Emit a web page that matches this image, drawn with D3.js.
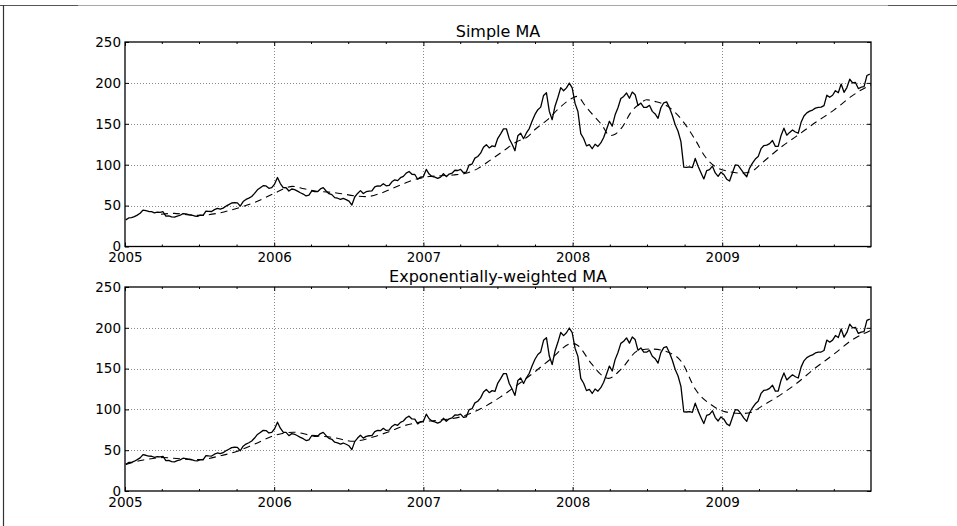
<!DOCTYPE html>
<html>
<head>
<meta charset="utf-8">
<script src="https://cdn.jsdelivr.net/npm/d3@7"></script>
<style>
  body { margin: 0; background: #fff; }
  svg { display: block; }
  text { font-family: "DejaVu Sans", sans-serif; fill: #000; }
</style>
</head>
<body>
<svg id="chart" width="957" height="526"></svg>
<script>
// ---- tick labels and titles ----
const yTicks = [0, 50, 100, 150, 200, 250];
const yearTicks = ["2005", "2006", "2007", "2008", "2009"];
const titles = ["Simple MA", "Exponentially-weighted MA"];

// ---- weekly closing price (one value per week, weeks starting Monday) ----
const close2005 = [32.6, 34.9, 35.2, 36.5, 38.4,
  40.6, 44.5, 43.8, 42.8,
  42.6, 41.2, 42.1, 41.7,
  42.5, 37.2, 37.4, 36.1,
  35.8, 37.1, 38.2, 40.2, 39.8,
  38.9, 38.3, 37.3, 36.8,
  38.4, 38.1, 43.3, 43.0,
  42.8, 45.1, 46.6, 45.7, 46.9,
  49.3, 51.2, 53.2, 53.6,
  53.4, 49.3, 54.9, 57.5, 59.1,
  61.2, 64.9, 69.3, 71.8,
  74.3, 74.0, 71.1, 71.9];
const close2006 = [76.3, 84.3, 77.0, 72.0, 71.8,
  67.8, 70.3, 69.5, 67.7,
  65.7, 64.1, 61.8, 62.7,
  68.0, 67.0, 67.0, 70.4,
  71.9, 67.8, 64.5, 63.4, 59.8,
  59.0, 57.5, 58.8, 57.3,
  55.4, 50.7, 60.5, 64.9, 68.3,
  64.8, 67.0, 67.7, 67.9,
  72.8, 74.2, 73.9, 76.8,
  74.2, 74.6, 79.1, 81.5, 80.5,
  84.1, 85.8, 89.7, 91.7,
  88.3, 88.0, 82.2, 84.8];
const close2007 = [85.5, 94.2, 88.5, 85.7, 84.8,
  83.2, 84.8, 89.1, 85.4,
  88.5, 89.6, 93.2, 92.9,
  94.3, 90.2, 91.0, 99.8, 100.8,
  108.0, 110.0, 114.1, 121.3,
  124.5, 120.5, 123.0, 122.0,
  132.3, 137.7, 143.8, 143.9, 131.8,
  125.0, 117.1, 135.3, 138.5,
  131.8, 138.8, 144.2, 153.5,
  161.5, 167.3, 170.4, 184.7, 187.9,
  165.4, 155.0, 171.5, 182.2,
  194.3, 190.4, 193.9, 199.8, 194.0];
const close2008 = [175.0, 165.0, 138.0, 132.0,
  123.0, 124.6, 119.5, 125.0,
  122.3, 126.6, 133.3, 143.0, 153.1,
  147.1, 161.0, 169.7, 180.9,
  183.5, 187.6, 181.2, 188.8,
  185.6, 172.4, 175.3, 170.1, 170.1,
  172.6, 165.2, 162.1, 156.7,
  169.6, 175.7, 176.8, 169.5,
  160.2, 148.9, 140.9, 128.2, 97.1,
  96.8, 97.4, 96.4, 107.6,
  98.2, 90.2, 82.6, 92.7,
  94.0, 98.3, 90.0, 85.8, 90.8];
const close2009 = [88.0, 82.3, 80.0, 90.1,
  99.7, 99.2, 94.4, 89.3,
  85.3, 95.9, 102.0, 106.9, 109.9,
  119.6, 123.4, 123.9, 125.8,
  129.6, 122.4, 122.5, 135.8,
  144.7, 136.1, 139.5, 142.4, 140.0,
  138.5, 151.8, 159.5, 163.4,
  165.5, 166.8, 169.2, 170.1, 170.3,
  172.2, 185.0, 182.4, 184.9,
  190.5, 188.0, 198.6, 188.5,
  194.3, 204.5, 199.9, 200.5, 193.1,
  194.7, 195.4, 209.0, 210.7];

// ---- 60-day simple moving average ----
const smaDates = ["2005-03-30", "2005-05-01", "2005-06-01", "2005-07-01", "2005-08-15",
  "2005-10-01", "2005-11-15", "2006-01-01", "2006-02-15", "2006-03-15", "2006-04-15",
  "2006-05-15", "2006-06-15", "2006-07-15", "2006-08-15", "2006-09-15", "2006-10-15",
  "2006-11-15", "2006-12-15", "2007-01-15", "2007-02-15", "2007-03-15", "2007-04-15",
  "2007-05-15", "2007-06-15", "2007-07-15", "2007-08-15", "2007-09-15", "2007-10-01",
  "2007-11-01", "2007-12-01", "2008-01-01", "2008-01-12", "2008-02-01", "2008-02-16",
  "2008-03-12", "2008-04-01", "2008-04-15", "2008-04-30", "2008-05-24", "2008-06-15",
  "2008-06-30", "2008-07-20", "2008-08-22", "2008-09-24", "2008-10-27", "2008-11-20",
  "2008-12-14", "2009-01-16", "2009-02-18", "2009-03-14", "2009-04-08", "2009-05-27",
  "2009-07-01", "2009-08-15", "2009-10-02", "2009-11-13", "2009-12-08", "2009-12-31"];
const smaValues = [39.5, 40.5, 38.8, 38.0, 40.5,
  46.5, 54.0, 65.0, 73.5, 70.5, 67.5,
  66.5, 64.5, 62.0, 61.0, 64.5, 70.5,
  77.0, 82.5, 85.5, 86.5, 87.5, 89.5,
  95.5, 106.0, 116.5, 127.5, 135.0, 143.0,
  155.0, 170.0, 181.5, 183.5, 172.0, 163.0,
  149.0, 135.5, 137.5, 145.0, 165.0, 175.0,
  179.4, 177.4, 171.0, 155.0, 130.5, 110.0,
  98.0, 91.8, 89.7, 91.8, 102.0, 122.3,
  134.6, 150.9, 167.0, 183.5, 191.7, 197.8];

// ---- exponentially-weighted moving average (span 60) ----
const ewmaDates = ["2005-01-03", "2005-02-15", "2005-04-04", "2005-05-15", "2005-07-01",
  "2005-08-21", "2005-10-01", "2005-11-12", "2006-01-01", "2006-02-18", "2006-03-30",
  "2006-05-27", "2006-07-13", "2006-09-02", "2006-10-05", "2006-11-15", "2007-01-01",
  "2007-02-13", "2007-04-03", "2007-05-22", "2007-07-08", "2007-08-12", "2007-09-30",
  "2007-11-09", "2008-01-01", "2008-01-12", "2008-02-16", "2008-03-12", "2008-03-29",
  "2008-04-30", "2008-06-09", "2008-07-12", "2008-08-22", "2008-09-24", "2008-10-27",
  "2008-12-07", "2009-01-09", "2009-02-18", "2009-03-14", "2009-04-08", "2009-05-27",
  "2009-07-01", "2009-08-15", "2009-10-02", "2009-11-13", "2009-12-31"];
const ewmaValues = [32.6, 38.0, 41.0, 39.5, 38.5,
  43.0, 48.5, 57.0, 68.0, 72.0, 68.5,
  65.5, 61.0, 66.5, 72.0, 80.0, 85.0,
  87.0, 91.0, 101.0, 115.0, 127.5, 145.8,
  162.0, 181.0, 179.0, 156.0, 142.0, 138.0,
  150.0, 172.0, 174.0, 170.0, 158.0, 125.0,
  105.0, 97.0, 95.0, 96.5, 104.0, 119.0,
  131.5, 150.0, 168.0, 184.5, 197.0];

// ---- assemble series ----
const parse = d3.timeParse("%Y-%m-%d");
const weeks = d3.timeMonday.range(new Date(2005, 0, 3), new Date(2010, 0, 1));
const close = [].concat(close2005, close2006, close2007, close2008, close2009);
const price = weeks.map((d, i) => ({ date: d, value: close[i] }));
const sma = smaDates.map((d, i) => ({ date: parse(d), value: smaValues[i] }));
const ewma = ewmaDates.map((d, i) => ({ date: parse(d), value: ewmaValues[i] }));

const svg = d3.select("#chart");

// page frame lines
svg.append("line").attr("x1", 0).attr("x2", 78).attr("y1", 5.5).attr("y2", 5.5)
  .attr("stroke", "#555").attr("stroke-width", 1.2);
svg.append("line").attr("x1", 78).attr("x2", 888).attr("y1", 5.5).attr("y2", 5.5)
  .attr("stroke", "#a8a8a8").attr("stroke-width", 1.2);
svg.append("line").attr("x1", 888).attr("x2", 957).attr("y1", 5.5).attr("y2", 5.5)
  .attr("stroke", "#555").attr("stroke-width", 1.2);
svg.append("line").attr("x1", 3.5).attr("x2", 3.5).attr("y1", 5).attr("y2", 526)
  .attr("stroke", "#333").attr("stroke-width", 1.2);

const left = 125, right = 871;
const panels = [
  { top: 42, bottom: 246.5, title: titles[0], ma: sma },
  { top: 287, bottom: 491, title: titles[1], ma: ewma }
];

const x = d3.scaleTime()
  .domain([new Date(2005, 0, 1), new Date(2009, 11, 31)])
  .range([left, right]);

const yearDates = yearTicks.map(y => new Date(+y, 0, 1));
const quarterDates = d3.timeMonth.every(3).range(new Date(2005, 0, 1), new Date(2010, 0, 1))
  .filter(d => d.getMonth() !== 0);

panels.forEach((p, k) => {
  const y = d3.scaleLinear().domain([0, 250]).range([p.bottom, p.top]);
  const g = svg.append("g");
  const clipId = "clip" + k;
  svg.append("clipPath").attr("id", clipId).append("rect")
    .attr("x", left).attr("y", p.top).attr("width", right - left).attr("height", p.bottom - p.top);

  // dotted grid
  const grid = g.append("g").attr("stroke", "#8a8a8a").attr("stroke-width", 1)
    .attr("stroke-dasharray", "1,2");
  yTicks.filter(v => v > 0 && v < 250).forEach(v => {
    const yy = Math.round(y(v)) + 0.5;
    grid.append("line").attr("x1", left).attr("x2", right).attr("y1", yy).attr("y2", yy);
  });
  yearDates.slice(1).forEach(d => {
    const xx = Math.round(x(d)) + 0.5;
    grid.append("line").attr("x1", xx).attr("x2", xx).attr("y1", p.top).attr("y2", p.bottom);
  });

  // moving average (dashed)
  g.append("path").datum(p.ma)
    .attr("clip-path", `url(#${clipId})`)
    .attr("fill", "none").attr("stroke", "#000").attr("stroke-width", 1.1)
    .attr("stroke-dasharray", "7,5")
    .attr("d", d3.line().curve(d3.curveMonotoneX).x(d => x(d.date)).y(d => y(d.value)));

  // price (solid)
  g.append("path").datum(price)
    .attr("clip-path", `url(#${clipId})`)
    .attr("fill", "none").attr("stroke", "#000").attr("stroke-width", 1.3)
    .attr("stroke-linejoin", "round")
    .attr("d", d3.line().x(d => x(d.date)).y(d => y(d.value)));

  // axes with inward ticks
  const fontSize = "13.5px";
  const ax = g.append("g").attr("transform", `translate(0,${p.bottom})`)
    .call(d3.axisBottom(x).tickValues(yearDates).tickFormat(d3.timeFormat("%Y"))
      .tickSize(-4).tickPadding(6));
  ax.selectAll("text").style("font-size", fontSize);
  g.append("g").attr("transform", `translate(0,${p.bottom})`)
    .call(d3.axisBottom(x).tickValues(quarterDates).tickFormat("").tickSize(-2));
  g.append("g").attr("transform", `translate(0,${p.top})`)
    .call(d3.axisTop(x).tickValues(yearDates).tickFormat("").tickSize(-4));
  g.append("g").attr("transform", `translate(0,${p.top})`)
    .call(d3.axisTop(x).tickValues(quarterDates).tickFormat("").tickSize(-2));
  const ay = g.append("g").attr("transform", `translate(${left},0)`)
    .call(d3.axisLeft(y).tickValues(yTicks).tickFormat(d3.format("d")).tickSize(-4).tickPadding(4));
  ay.selectAll("text").style("font-size", fontSize);
  g.append("g").attr("transform", `translate(${right},0)`)
    .call(d3.axisRight(y).tickValues(yTicks).tickFormat("").tickSize(-4));
  g.selectAll(".domain").remove();
  g.selectAll(".tick line").attr("stroke", "#000").attr("stroke-width", 1);
  g.selectAll(".tick text").style("font-family", "'DejaVu Sans', sans-serif");

  // frame
  g.append("rect").attr("x", left).attr("y", p.top)
    .attr("width", right - left).attr("height", p.bottom - p.top)
    .attr("fill", "none").attr("stroke", "#000").attr("stroke-width", 1.3);

  // title
  g.append("text").attr("x", (left + right) / 2).attr("y", p.top - 5)
    .attr("text-anchor", "middle").style("font-size", "16px").text(p.title);
});
</script>
</body>
</html>
